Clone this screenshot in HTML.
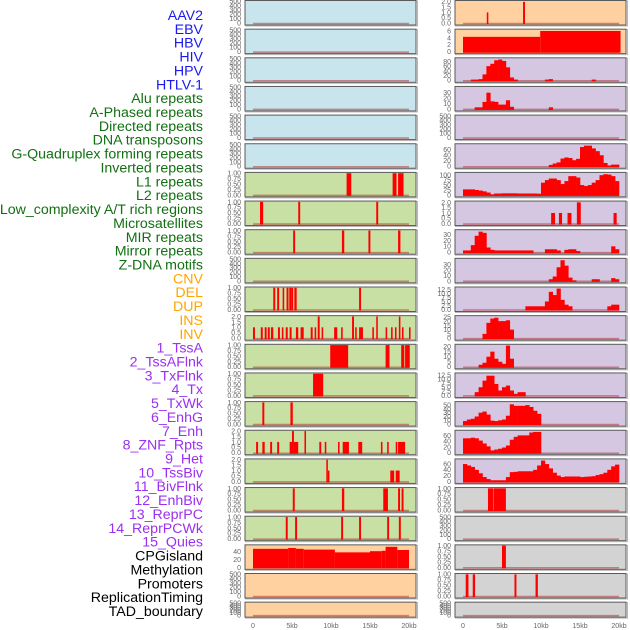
<!DOCTYPE html>
<html><head><meta charset="utf-8"><style>
body{margin:0;background:#fff;}
svg{display:block;font-family:"Liberation Sans",sans-serif;}
</style></head><body>
<svg id="chart" width="630" height="630" viewBox="0 0 630 630"></svg>
<script>
// ---------- data ----------
const trackLabels = ["AAV2","EBV","HBV","HIV","HPV","HTLV-1","Alu repeats","A-Phased repeats","Directed repeats","DNA transposons","G-Quadruplex forming repeats","Inverted repeats","L1 repeats","L2 repeats","Low_complexity A/T rich regions","Microsatellites","MIR repeats","Mirror repeats","Z-DNA motifs","CNV","DEL","DUP","INS","INV","1_TssA","2_TssAFlnk","3_TxFlnk","4_Tx","5_TxWk","6_EnhG","7_Enh","8_ZNF_Rpts","9_Het","10_TssBiv","11_BivFlnk","12_EnhBiv","13_ReprPC","14_ReprPCWk","15_Quies","CPGisland","Methylation","Promoters","ReplicationTiming","TAD_boundary"];
const labelGroups = ["v","v","v","v","v","v","r","r","r","r","r","r","r","r","r","r","r","r","r","s","s","s","s","s","c","c","c","c","c","c","c","c","c","c","c","c","c","c","c","o","o","o","o","o"];
const xTickLabels = ["0","5kb","10kb","15kb","20kb"];
const xTickValues = [0,5,10,15,20];

const ticks500 = [0,100,200,300,400,500];
const ticks01 = [0,0.25,0.5,0.75,1];
const ticks02 = [0,0.5,1,1.5,2];

// middle column segments [startKb, endKb, value]
const mid6 = [[12.0,12.6,1],[17.9,18.4,1],[18.6,19.3,1]];
const mid7 = [[0.9,1.3,1],[5.8,6.05,1],[15.8,16.05,1]];
const mid8 = [[5.15,5.4,1],[11.4,11.7,1],[14.8,15.05,1],[18.6,18.9,1]];
const mid10 = [[2.6,2.85,1],[3.1,3.35,1],[3.8,4.0,1],[4.3,4.55,1],[4.65,4.9,1],[4.9,5.15,1],[5.3,5.6,1],[13.6,13.85,1]];
const mid11 = [[0,0.25,1],[1.0,1.25,1],[1.5,1.75,1],[1.9,2.15,1],[2.3,2.6,1],[3.2,3.45,1],[3.7,3.9,1],[4.2,4.45,1],[4.7,4.95,1],[5.5,5.8,1],[6.1,6.5,1],[7.4,7.65,1],[7.9,8.1,1],[8.3,8.55,2],[8.8,9.0,1],[10.4,10.8,1],[11.3,11.5,1],[12.7,12.95,2],[13.1,13.3,1],[13.6,14.1,1],[15.3,15.5,1],[15.8,16.0,2],[17.0,17.2,1],[17.7,17.9,1],[18.2,18.4,1],[18.7,18.9,2],[19.1,19.3,1],[20.0,20.2,1]];
const mid12 = [[9.9,12.2,1],[17.0,17.5,1],[19.0,19.4,1],[19.5,20.1,1]];
const mid13 = [[7.7,9.0,1]];
const mid14 = [[1.2,1.45,1],[4.8,5.1,1]];
const mid15 = [[0.4,0.65,1],[1.2,1.5,1],[2.2,2.45,1],[3.1,3.35,1],[4.7,5.0,1],[5.0,5.25,2],[5.25,5.8,1],[6.6,6.8,2],[8.5,8.75,1],[9.2,9.4,1],[10.9,11.1,1],[11.5,12.3,1],[13.5,14.0,1],[16.4,16.6,1],[17.2,17.4,1],[18.3,18.5,1],[18.6,19.5,1]];
const mid16 = [[9.4,9.6,2],[9.6,9.8,1],[17.6,18.1,1],[18.3,18.8,1]];
const mid17 = [[5.1,5.35,1],[11.4,11.7,1],[16.7,17.3,1],[18.6,18.85,1],[19.05,19.3,1]];
const mid18 = [[4.2,4.45,1],[5.4,5.65,1],[11.3,11.55,1],[13.6,13.85,1],[17.2,17.45,1],[18.7,18.95,1]];
const mid19 = [[0,4.5,47],[4.5,5.5,49],[5.5,6.5,47],[6.5,10.5,45],[10.5,15,38],[15,16.5,41],[16.5,17,42],[17,18.5,52],[18.5,20,44]];

// right column segments / 0.5kb bins
const right0 = [[3.05,3.25,1],[7.7,7.95,2]];
const right1 = [[0,9.9,4.3],[9.9,20.2,6]];
const right2 = [0,0,3,3,5,25,60,70,85,88,82,55,12,3,0,0,0,0,0,0,0,3,5,0,0,0,0,0,0,0,0,0,0,3,0,0,0,0,0,0];
const right3 = [0,0,0,3,3,13,30,14,13,8,8,16,4,0,0,0,0,0,0,0,0,0,3,0,0,0,0,0,0,0,0,0,0,0,0,0,0,0,0,0];
const right5 = [0,0,0,0,0,0,0,0,0,0,0,0,0,0,0,0,0,0,0,0,0,0,5,10,14,28,32,30,22,27,70,75,75,65,55,40,12,3,6,6];
const right6 = [28,28,28,25,22,18,12,3,7,7,8,8,8,8,7,7,7,7,7,6,62,75,83,83,75,55,70,95,95,88,50,45,50,62,75,100,105,103,95,70];
const right7 = [[11.3,11.8,1],[12.3,12.7,1],[13.4,13.9,1],[14.6,15.1,2],[19.3,19.7,1]];
const right8 = [3,3,12,28,35,33,8,4,3,3,3,3,3,3,3,3,3,3,0,0,0,5,5,5,3,0,4,5,5,2,0,0,0,0,0,0,0,0,10,5];
const right9 = [0,0,0,0,0,0,0,0,0,0,0,0,0,0,0,0,0,0,0,0,0,0,3,8,25,38,28,6,1,0,0,0,0,3,3,0,0,0,5,3];
const right10 = [0,0,0,0,0,0,0,0,0,0,0,0,0,0,0,0,2,2,2,2,2,5,11,9,13,6,3,2,0,0,0,0,0,0,0,0,0,2,3,3];
const right11 = [0,0,0,0,0,5,18,23,24,20,20,21,10,0,0,0,0,0,0,0,0,0,0,0,0,0,0,0,0,0,0,0,0,0,0,0,0,0,0,0];
const right12 = [0,0,0,0,2,4,10,15,8,5,3,21,8,0,0,0,0,0,0,0,0,0,0,0,0,0,0,0,0,0,0,0,0,0,0,0,0,0,0,0];
const right13 = [0,0,0,2,5,9,12,12,7,3,5,6,3,1,2,2,0,0,0,0,0,0,0,0,0,0,0,0,0,0,0,0,0,0,0,0,0,0,0,0];
const right14 = [8,12,14,20,30,33,25,9,8,10,12,22,52,48,48,48,50,45,35,27,0,0,0,0,0,0,0,0,0,0,0,0,0,0,0,0,0,0,0,0];
const right15 = [50,50,52,50,42,32,22,8,11,14,18,25,45,55,60,60,60,70,72,72,0,0,0,0,0,0,0,0,0,0,0,0,0,0,0,0,0,0,0,0];
const right16 = [60,55,50,40,28,15,8,4,4,4,4,15,32,33,35,35,35,35,40,55,72,60,45,30,20,15,17,17,17,17,15,16,17,18,22,25,30,40,52,58];
const right17 = [[3.2,3.85,1],[3.9,5.5,1]];
const right19 = [[5.0,5.5,1]];
const right20 = [[0.35,0.7,1],[1.25,1.55,1],[6.6,6.85,1],[9.3,9.6,1]];

// ---------- config ----------
const BLUE="#c8e4ec", GREEN="#c8e0a4", PEACH="#ffd1a1", PURP="#d5c6e2", GREY="#d3d3d3";
const midCfg = [];
const rightCfg = [];
for(let k=0;k<22;k++){
  midCfg.push({bg: k<6?BLUE:(k<19?GREEN:PEACH), ticks:ticks500, ymax:500, seg:null, bins:null});
  rightCfg.push({bg: k<2?PEACH:(k<17?PURP:GREY), ticks:ticks500, ymax:500, seg:null, bins:null});
}
function setM(k,seg,ticks,ymax){midCfg[k].seg=seg;midCfg[k].ticks=ticks;midCfg[k].ymax=ymax;}
setM(6,mid6,ticks01,1);setM(7,mid7,ticks01,1);setM(8,mid8,ticks01,1);
setM(10,mid10,ticks01,1);setM(11,mid11,ticks02,2);setM(12,mid12,ticks01,1);
setM(13,mid13,ticks01,1);setM(14,mid14,ticks01,1);setM(15,mid15,ticks02,2);
setM(16,mid16,ticks02,2);setM(17,mid17,ticks01,1);setM(18,mid18,ticks01,1);
setM(19,mid19,[0,20,40],55);
function setRS(k,seg,ticks,ymax){rightCfg[k].seg=seg;rightCfg[k].ticks=ticks;rightCfg[k].ymax=ymax;}
function setRB(k,bins,ticks,ymax){rightCfg[k].bins=bins;rightCfg[k].ticks=ticks;rightCfg[k].ymax=ymax;}
setRS(0,right0,ticks02,2.05);setRS(1,right1,[0,2,4,6],6.3);
setRB(2,right2,[0,20,40,60,80],92);setRB(3,right3,[0,10,20,30],40);
setRB(5,right5,[0,20,40,60],79);setRB(6,right6,[0,25,50,75,100],110);
setRS(7,right7,ticks02,2.05);setRB(8,right8,[0,10,20,30],37);
setRB(9,right9,[0,10,20,30],40);setRB(10,right10,[0,2.5,5,7.5,10,12.5],13.5);
setRB(11,right11,[0,5,10,15,20,25],25.5);setRB(12,right12,[0,5,10,15,20],21.5);
setRB(13,right13,[0,2.5,5,7.5,10,12.5],13.2);setRB(14,right14,[0,10,20,30,40,50],57);
setRB(15,right15,[0,20,40,60],75);setRB(16,right16,[0,20,40,60],75);
setRS(17,right17,ticks01,1);setRS(19,right19,ticks01,1);setRS(20,right20,ticks01,1);

// ---------- drawing ----------
const NS="http://www.w3.org/2000/svg";
const svg=document.getElementById('chart');
function mk(tag,attrs,parent){const e=document.createElementNS(NS,tag);for(const a in attrs)e.setAttribute(a,attrs[a]);(parent||svg).appendChild(e);return e;}
const groupColor={v:"#1a1aee",r:"#127012",s:"#ffa500",c:"#9b30f0",o:"#000000"};

const lg=mk('g',{});


trackLabels.forEach((t,i)=>{
  const e=mk('text',{x:203,y:15+i*13.86+5,'text-anchor':'end','font-size':14.2,fill:groupColor[labelGroups[i]]},lg);
  
  
  e.textContent=t;
});

function fmt(v,ticks){
  const step=ticks.length>1?ticks[1]-ticks[0]:1;
  if(step===0.25) return v.toFixed(2);
  if(step===0.5||step===2.5) return v.toFixed(1);
  return String(v);
}

function drawPanel(cfg,k,px0,col){
  const top=0.5+28.65*k, h=(k===21?15:24.5), w=171;
  const x0=px0+8;
  const sx=kb=>x0+kb*7.8;
  const yb=top+h-2, yt=top+0.8;
  const sy=v=>yb-(v/cfg.ymax)*(yb-yt);
  const g=mk('g',{});
  
  
  mk('rect',{x:px0+0.5,y:top+0.5,width:w+1,height:h+0.5,fill:'none',stroke:'#b8b8b8','stroke-width':1},g);
  const bg=mk('rect',{x:px0,y:top,width:w,height:h,fill:cfg.bg,stroke:'#5a5a5a','stroke-width':1},g);
  
  
  cfg.ticks.forEach(v=>{
    const t=mk('text',{x:px0-4,y:sy(v)+2.4,'text-anchor':'end','font-size':7,fill:'#666'},g);
    
    
    t.textContent=fmt(v,cfg.ticks);
  });
  const bl=mk('line',{x1:sx(0),x2:sx(20),y1:yb+0.5,y2:yb+0.5,stroke:'rgba(170,20,20,0.45)','stroke-width':1.6},g);
  
  
  if(cfg.seg){
    cfg.seg.forEach(s=>{
      const r=mk('rect',{x:sx(s[0]),y:sy(s[2]),width:Math.max(1.5,sx(s[1])-sx(s[0])),height:yb+1-sy(s[2]),fill:'#ff0000'},g);
      
      
    });
  }
  if(cfg.bins){
    cfg.bins.forEach((v,i)=>{
      if(v<=0) return;
      const r=mk('rect',{x:sx(i*0.5),y:sy(v),width:sx(0.5)-sx(0)+0.3,height:yb+1-sy(v),fill:'#ff0000'},g);
      
      
    });
  }
}
for(let k=0;k<22;k++){
  drawPanel(midCfg[k],k,245,'middle');
  drawPanel(rightCfg[k],k,455,'right');
}
[245,455].forEach((px0,ci)=>{
  const g=mk('g',{});
  
  
  xTickValues.forEach((v,i)=>{
    const t=mk('text',{x:px0+8+v*7.8,y:628,'text-anchor':'middle','font-size':7,fill:'#666'},g);
    
    
    t.textContent=xTickLabels[i];
  });
});
</script>
</body></html>
